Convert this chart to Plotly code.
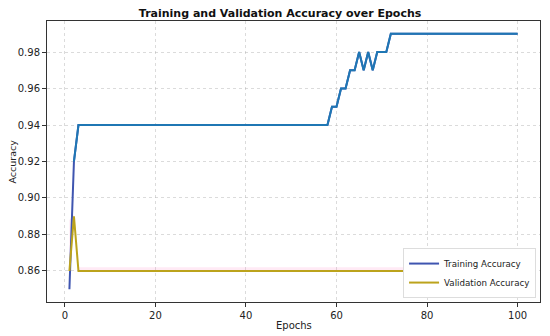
import plotly.graph_objects as go

epochs = list(range(1, 101))
train_acc = [0.85, 0.92] + [0.94] * 56 + [0.95, 0.95, 0.96, 0.96, 0.97, 0.97, 0.98, 0.97, 0.98, 0.97,
                                            0.98, 0.98, 0.98] + [0.99] * 29
val_acc = [0.86, 0.89] + [0.86] * 98
val_band_upper = [0.888, 0.891] + [0.862] * 98

x_ticks = [0, 20, 40, 60, 80, 100]
y_ticks = [0.86, 0.88, 0.90, 0.92, 0.94, 0.96, 0.98]

TRAIN_LEG = "#3f55b0"
TRAIN_COL = "#1f77b4"
VAL_COL = "#bca31c"

fig = go.Figure()
# faint band around validation
fig.add_trace(go.Scatter(x=epochs, y=val_acc, mode="lines", line=dict(width=0),
                         showlegend=False, hoverinfo="skip"))
fig.add_trace(go.Scatter(x=epochs, y=val_band_upper, mode="lines", line=dict(width=0),
                         fill="tonexty", fillcolor="rgba(255,140,200,0.18)",
                         showlegend=False, hoverinfo="skip"))
fig.add_trace(go.Scatter(x=epochs, y=train_acc, mode="lines", name="Training Accuracy",
                         line=dict(color=TRAIN_LEG, width=2)))
fig.add_trace(go.Scatter(x=epochs[1:], y=train_acc[1:], mode="lines", showlegend=False,
                         line=dict(color=TRAIN_COL, width=2)))
fig.add_trace(go.Scatter(x=epochs, y=val_acc, mode="lines", name="Validation Accuracy",
                         line=dict(color=VAL_COL, width=2)))

axis_common = dict(
    showline=True, linecolor="#333", linewidth=1, mirror=True,
    ticks="outside", ticklen=4, tickcolor="#333", tickwidth=1,
    showgrid=True, gridcolor="rgba(175,175,175,0.45)", griddash="3px,3px", gridwidth=1,
    zeroline=False, tickfont=dict(size=10, color="#222"), automargin=False,
)

# page body has an 8px default margin, so the figure is 8px smaller on each side
fig.update_layout(
    width=542, height=328,
    margin=dict(l=39, r=10, t=13, b=34),
    paper_bgcolor="white", plot_bgcolor="white",
    font=dict(family="DejaVu Sans", color="#222"),
    title=dict(text="<b>Training and Validation Accuracy over Epochs</b>", x=0.502, xref="container",
               xanchor="center", y=0.985, yref="container", yanchor="middle",
               font=dict(size=11, color="#111")),
    xaxis=dict(axis_common, range=[-3.95, 104.95], tickvals=x_ticks),
    yaxis=dict(axis_common, range=[0.843, 0.997], tickvals=y_ticks, tickformat=".2f"),
    legend=dict(x=0.992, y=0.014, xanchor="right", yanchor="bottom", traceorder="normal",
                bgcolor="white", bordercolor="#ddd", borderwidth=1,
                font=dict(size=8.7), tracegroupgap=0, itemwidth=30),
    annotations=[
        dict(text="Epochs", x=0.5, xref="paper", y=-0.082, yref="paper", yanchor="middle",
             showarrow=False, font=dict(size=10)),
        dict(text="Accuracy", x=-0.069, xref="paper", y=0.5, yref="paper", xanchor="center",
             textangle=-90, showarrow=False, font=dict(size=9.5)),
    ],
)

fig.write_html("out.html")
